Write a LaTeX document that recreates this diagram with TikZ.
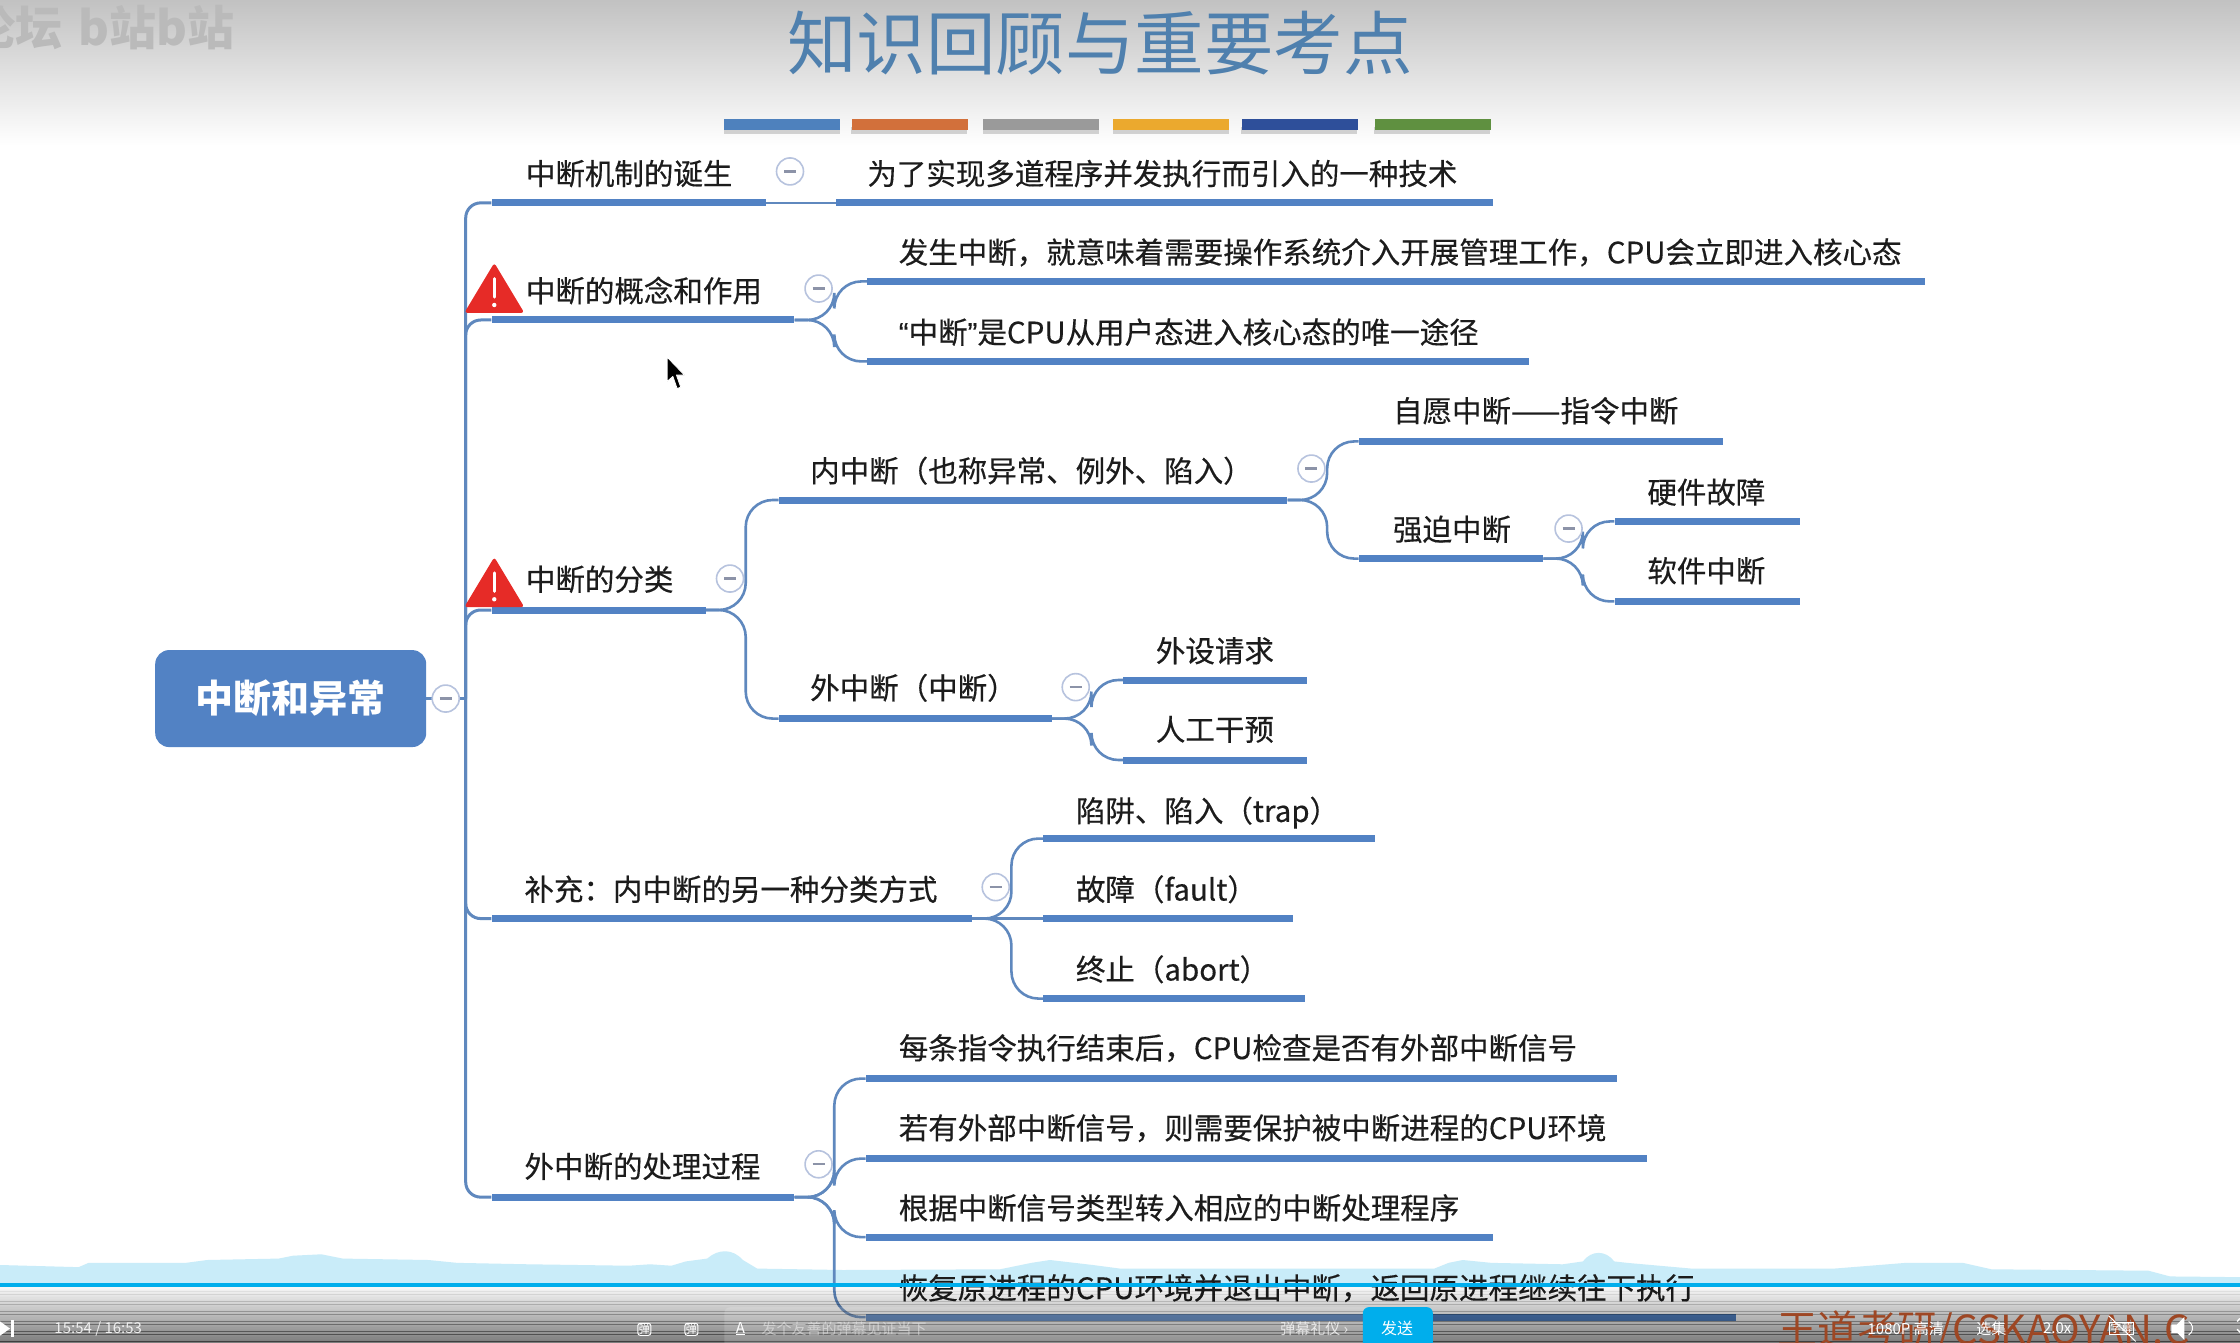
\documentclass[tikz,border=0pt]{standalone}
\usepackage{fontspec}
\setmainfont{Noto Sans CJK SC}
\newfontfamily\bodyf{Noto Sans CJK SC}[FakeBold=0.35]
\newfontfamily\quotef{Liberation Sans}[FakeBold=0.35]
\usetikzlibrary{calc}
\definecolor{mmblue}{HTML}{5282C4}
\definecolor{mmline}{HTML}{5F88BE}
\definecolor{ringc}{HTML}{B7C3DE}
\definecolor{minusc}{HTML}{8C93A8}
\definecolor{inkc}{HTML}{1C1C1C}
\definecolor{titlec}{HTML}{4F80AE}
\definecolor{cyanc}{HTML}{00AEEC}
\definecolor{wavec}{HTML}{C9ECF9}
\definecolor{warnc}{HTML}{E62B27}
\tikzset{
  topicbar/.style={rectangle,fill=mmblue,inner sep=0pt,minimum height=7pt},
  topictext/.style={anchor=west,inner sep=0pt,text=inkc,font=\bodyf\fontsize{29.5}{30}\selectfont,text height=25pt,text depth=4pt},
  conn/.style={draw=mmline,line width=2.6pt},
  trunkline/.style={draw=mmline,line width=3pt,rounded corners=15pt},
  forkline/.style={draw=mmline,line width=2.6pt,rounded corners=27pt},
  collapser/.style={circle,draw=ringc,fill=white,line width=1.6pt,minimum size=27pt,inner sep=0pt,
    path picture={\draw[minusc,line width=2.2pt] ([xshift=-6pt]path picture bounding box.center) -- ([xshift=6pt]path picture bounding box.center);}},
  stripe/.style={rectangle,inner sep=0pt,minimum width=116pt,minimum height=11pt,anchor=west},
  uilabel/.style={text=white,inner sep=0pt,font=\fontsize{15}{16}\selectfont},
  warnsign/.pic={
    \fill[warnc,rounded corners=3pt] (-21,0) -- (21,0) -- (0,-35) -- cycle;
    \draw[white,line width=3pt,line cap=round] (0,-24) -- (0,-11);
    \fill[white] (0,-5.5) circle (2.2pt);
  }
}
\newcommand{\mmtopic}[7]{%
  \pgfmathsetmacro\mmw{(#3-#2)*1.42857}%
  \node[topicbar,minimum width=\mmw pt,anchor=west] (#1) at (#2,#4) {};
  \node[topictext] (#1-t) at (#5,#6) {#7};
}
\newcommand{\mmfork}[3]{\path[forkline] (#1.east) -- (#2) -- (#2 |- #3.west) -- (#3.west);}
\newcommand{\mmtrunk}[1]{\path[trunkline] (trunk) -- (trunk |- #1.west) -- (#1.west);}
\begin{document}
\begin{tikzpicture}[x=1.42857pt,y=-1.42857pt]
\useasboundingbox (0,0) rectangle (1568,940.1);
\clip (0,0) rectangle (1568,940.1);
\fill[white] (0,0) rectangle (1568,940.1);
% header
\shade[top color=black!24,bottom color=white] (0,0) rectangle (1568,102);
\node[anchor=west,inner sep=0pt,text=black!27,font=\bfseries\fontsize{47}{48}\selectfont] (wm) at (-22,19) {论坛\hspace{16pt}b站b站};
\node[text=titlec,inner sep=0pt,font=\fontsize{69.5}{70}\selectfont] (title) at (770,30) {知识回顾与重要考点};
\foreach \nm/\xa/\cc in {s1/507/4E81BD,s2/596/D2703B,s3/688/9A9A9A,s4/779/EBA92E,s5/869/2E4F9A,s6/962/5F9040}{
  \definecolor{tmpc}{HTML}{\cc}
  \fill[black,opacity=.16] (\xa,89) rectangle ++(81,5);
  \node[stripe,fill=tmpc] (\nm) at (\xa,87) {};
}
% wave
\fill[wavec] (0,899) -- (0,885.5) -- (55,887) -- (62,884) -- (130,884) -- (145,882) -- (195,881) -- (205,879) -- (225,878) -- (240,881) -- (300,882) -- (320,884) -- (370,885) -- (440,886) -- (455,885) -- (470,886) -- (480,883) -- (495,881) .. controls (503,874) and (513,874) .. (520,882) -- (530,888) -- (590,889) -- (700,888.5) -- (722,884) -- (735,882) -- (765,885.5) -- (784,888) -- (1004,888) -- (1014,884) -- (1024,882) -- (1044,884) -- (1094,885) -- (1108,883) .. controls (1114,875) and (1124,875) .. (1130,883) -- (1139,884) -- (1184,888) -- (1284,888) -- (1334,884) -- (1374,884) -- (1394,888.5) -- (1504,889.5) -- (1519,893.5) -- (1568,894) -- (1568,899) -- cycle;
% root
\node[rectangle,rounded corners=14pt,fill=mmblue,minimum width=271pt,minimum height=97pt,inner sep=0pt,text=white,font=\bfseries\fontsize{38}{40}\selectfont] (root) at (203.5,489) {中断和异常};
\coordinate (trunk) at (326,489);
% topics
\mmtopic{b1}{344}{536}{142}{368}{122}{中断机制的诞生}
\mmtopic{b1a}{585}{1045}{142}{607}{122}{为了实现多道程序并发执行而引入的一种技术}
\mmtopic{b2}{344}{556}{224}{368}{204}{中断的概念和作用}
\mmtopic{b2a}{607}{1347}{197}{629}{177}{发生中断，就意味着需要操作系统介入开展管理工作，CPU会立即进入核心态}
\mmtopic{b2b}{607}{1070}{253}{629}{233}{{\quotef “}中断{\quotef ”}是CPU从用户态进入核心态的唯一途径}
\mmtopic{b3}{344}{494}{427}{368}{406}{中断的分类}
\mmtopic{c1}{545}{901}{350}{567}{330}{内中断（也称异常、例外、陷入）}
\mmtopic{c11}{951}{1206}{309}{975}{288}{自愿中断——指令中断}
\mmtopic{c12}{951}{1080}{391}{975}{371}{强迫中断}
\mmtopic{c121}{1130}{1260}{365}{1153}{345}{硬件故障}
\mmtopic{c122}{1130}{1260}{421}{1153}{400}{软件中断}
\mmtopic{c2}{545}{736}{503}{567}{482}{外中断（中断）}
\mmtopic{c21}{786}{915}{476}{809}{456}{外设请求}
\mmtopic{c22}{786}{915}{532}{809}{511}{人工干预}
\mmtopic{b4}{344}{680}{643}{367}{623}{补充：内中断的另一种分类方式}
\mmtopic{b4a}{730}{962}{587}{753}{568}{陷阱、陷入（trap）}
\mmtopic{b4b}{730}{905}{643}{753}{623}{故障（fault）}
\mmtopic{b4c}{730}{913}{699}{753}{679}{终止（abort）}
\mmtopic{b5}{344}{556}{838}{367}{817}{外中断的处理过程}
\mmtopic{b5a}{606}{1132}{755}{629}{734}{每条指令执行结束后，CPU检查是否有外部中断信号}
\mmtopic{b5b}{606}{1153}{811}{629}{790}{若有外部中断信号，则需要保护被中断进程的CPU环境}
\mmtopic{b5c}{606}{1045}{866}{629}{846}{根据中断信号类型转入相应的中断处理程序}
\mmtopic{b5d}{606}{1215}{922}{629}{902}{恢复原进程的CPU环境并退出中断，返回原进程继续往下执行}
% fork points
\coordinate (f2) at (584,224);
\coordinate (f3) at (522,427);
\coordinate (f31) at (929,350);
\coordinate (f312) at (1108,391);
\coordinate (f32) at (764,503);
\coordinate (f4) at (708,643);
\coordinate (f5) at (584,838);
% connectors
\draw[conn] (root.east) -- (trunk);
\mmtrunk{b1}\mmtrunk{b2}\mmtrunk{b3}\mmtrunk{b4}\mmtrunk{b5}
\draw[conn] (b1.east) -- (b1a.west);
\mmfork{b2}{f2}{b2a}\mmfork{b2}{f2}{b2b}
\mmfork{b3}{f3}{c1}\mmfork{b3}{f3}{c2}
\mmfork{c1}{f31}{c11}\mmfork{c1}{f31}{c12}
\mmfork{c12}{f312}{c121}\mmfork{c12}{f312}{c122}
\mmfork{c2}{f32}{c21}\mmfork{c2}{f32}{c22}
\mmfork{b4}{f4}{b4a}\mmfork{b4}{f4}{b4c}
\draw[conn] (b4.east) -- (b4b.west);
\mmfork{b5}{f5}{b5a}\mmfork{b5}{f5}{b5b}\mmfork{b5}{f5}{b5c}\mmfork{b5}{f5}{b5d}
% collapse markers
\foreach \nm/\xx/\yy in {k0/312/489,k1/553/120,k2/573/202,k3/511/405,k31/918/328,k312/1098/370,k32/753/481,k4/697/621,k5/573/815}{
  \node[collapser] (\nm) at (\xx,\yy) {};
}
\pic at (346,219) {warnsign};
\pic at (346,425) {warnsign};
% cursor
\draw[white,fill=black,line width=.8pt,line join=round] (467,250) -- (467,267) -- (471,263.5) -- (474,272) -- (476.5,271) -- (473.5,262.5) -- (479,262.5) -- cycle;
% player bar
\foreach \i in {0,...,39}{
  \pgfmathsetmacro\op{0.02+0.0125*\i}
  \fill[black,opacity=\op] (0,900+\i) rectangle (1568,901.2+\i);
}
\fill[white,opacity=.14,rounded corners=6pt] (507,915) rectangle (975,950);
\fill[cyanc] (0,898) rectangle (1568,901);
\fill[cyanc,rounded corners=6pt] (954,915) rectangle (1003,955);
\node[text=white,inner sep=0pt,font=\fontsize{16}{17}\selectfont] (send) at (978,930) {发送};
\node[uilabel,opacity=.75] (etiq) at (920,930) {弹幕礼仪 ›};
\node[uilabel,anchor=west,opacity=.45] (hint) at (533,930) {发个友善的弹幕见证当下};
\node[uilabel,anchor=west] (atxt) at (515,930) {\underline{A}};
\node[uilabel,anchor=west,opacity=.85] (time) at (38,930) {15:54 / 16:53};
\fill[white] (0,925) -- (7,930) -- (0,935) -- cycle;
\fill[white] (8,924) rectangle (10,936);
\foreach \nm/\xx in {tv1/451,tv2/484}{
  \node[draw=white,rounded corners=2.5pt,line width=1pt,inner sep=1pt,text=white,font=\fontsize{11}{12}\selectfont] (\nm) at (\xx,930.5) {弹};
}
\node[anchor=west,inner sep=0pt,text=black!30!brown!80!red,font=\fontsize{40}{42}\selectfont] (brand) at (1244,932) {王道考研/CSKAOYAN.C};
\node[uilabel] (hd) at (1334,930) {1080P 高清};
\node[uilabel] (sel) at (1394,930) {选集};
\node[uilabel] (spd) at (1440,930) {2.0x};
\node[draw=white,line width=1pt,inner sep=1pt,text=white,font=\fontsize{11}{12}\selectfont] (sub) at (1485,930) {字幕};
\draw[white,line width=1pt] (1476,921) -- (1495,939);
\fill[white] (1520,927) -- (1524,927) -- (1529,922) -- (1529,938) -- (1524,933) -- (1520,933) -- cycle;
\draw[white,line width=1pt] (1532,925) arc (-60:60:5.5);
\draw[white,line width=1.4pt] (1566,925) arc (-150:150:5.5);
\end{tikzpicture}
\end{document}
